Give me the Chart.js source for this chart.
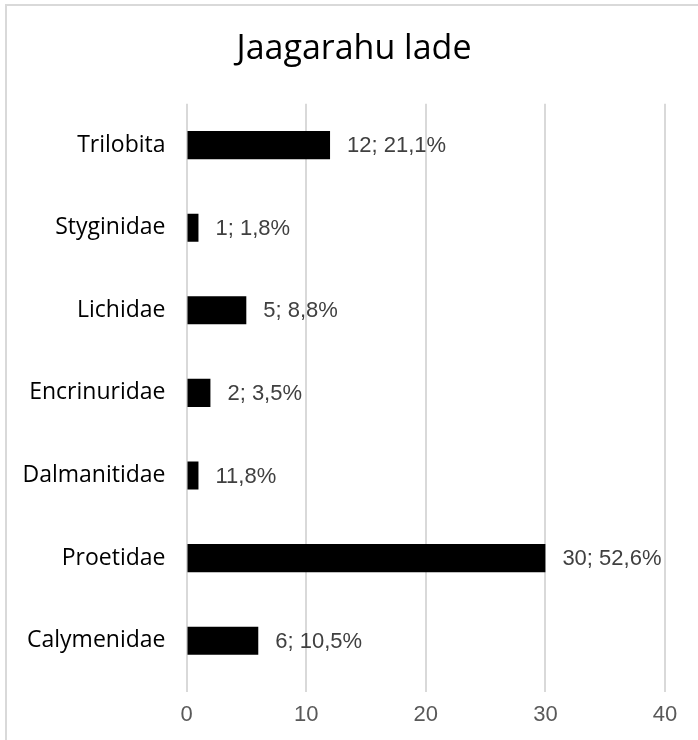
<!DOCTYPE html>
<html lang="et">
<head>
    <meta charset="UTF-8">
    <title>Jaagarahu lade</title>
    <script src="https://cdn.jsdelivr.net/npm/chart.js"></script>
    <style>
        body { margin: 0; background: #fff; overflow: hidden; }
        #wrap { position: relative; width: 698px; height: 740px; }
        #frame { position: absolute; left: 5px; top: 4px; width: 900px; height: 900px;
                 border-top: 2px solid #d9d9d9; border-left: 2px solid #d9d9d9; }
        canvas { position: absolute; left: 0; top: 0; }
    </style>
</head>
<body>
    <div id="wrap">
        <div id="frame"></div>
        <canvas id="chart" width="698" height="740"></canvas>
    </div>

    <script>
        // Data
        const categories = ['Trilobita', 'Styginidae', 'Lichidae', 'Encrinuridae', 'Dalmanitidae', 'Proetidae', 'Calymenidae'];
        const counts = [12, 1, 5, 2, 1, 30, 6];
        const valueLabels = ['12; 21,1%', '1; 1,8%', '5; 8,8%', '2; 3,5%', '11,8%', '30; 52,6%', '6; 10,5%'];
        const xTicks = [0, 10, 20, 30, 40];

        // Draw "n; p%" to the right of each bar
        const barLabels = {
            id: 'barLabels',
            afterDatasetsDraw(chart) {
                const ctx = chart.ctx;
                const meta = chart.getDatasetMeta(0);
                ctx.save();
                ctx.font = '22px "Liberation Sans", Arial, sans-serif';
                ctx.fillStyle = '#404040';
                ctx.textAlign = 'left';
                ctx.textBaseline = 'middle';
                meta.data.forEach((bar, i) => {
                    ctx.fillText(valueLabels[i], bar.x + 17, bar.y + 1);
                });
                ctx.restore();
            }
        };

        new Chart(document.getElementById('chart'), {
            type: 'bar',
            data: {
                labels: categories,
                datasets: [{
                    data: counts,
                    backgroundColor: '#000000',
                    barPercentage: 0.34,
                    categoryPercentage: 1
                }]
            },
            options: {
                indexAxis: 'y',
                responsive: false,
                animation: false,
                layout: { padding: { left: 10, right: 0, top: 0, bottom: 0 } },
                plugins: {
                    legend: { display: false },
                    tooltip: { enabled: false },
                    title: {
                        display: true,
                        text: 'Jaagarahu lade',
                        color: '#000000',
                        font: { family: '"Open Sans", sans-serif', size: 34, weight: 'normal', lineHeight: 1.2 },
                        padding: { top: 29, bottom: 34 }
                    }
                },
                scales: {
                    x: {
                        min: xTicks[0],
                        max: xTicks[xTicks.length - 1],
                        afterBuildTicks: (scale) => { scale.ticks = xTicks.map(v => ({ value: v })); },
                        afterFit: (scale) => { scale.height = 58; scale.paddingLeft = 0; scale.paddingRight = 33; },
                        grid: { color: '#d9d9d9', lineWidth: 2, drawTicks: true, tickLength: 10, tickColor: '#d9d9d9' },
                        border: { display: false },
                        ticks: {
                            color: '#595959',
                            padding: 10,
                            font: { family: '"Liberation Sans", Arial, sans-serif', size: 22 }
                        }
                    },
                    y: {
                        afterFit: (scale) => { scale.width = 176.5; },
                        grid: { display: false, drawTicks: false },
                        border: { display: false },
                        ticks: {
                            color: '#000000',
                            padding: 21,
                            font: { family: '"Open Sans", sans-serif', size: 23 }
                        }
                    }
                }
            },
            plugins: [barLabels]
        });
    </script>
</body>
</html>
